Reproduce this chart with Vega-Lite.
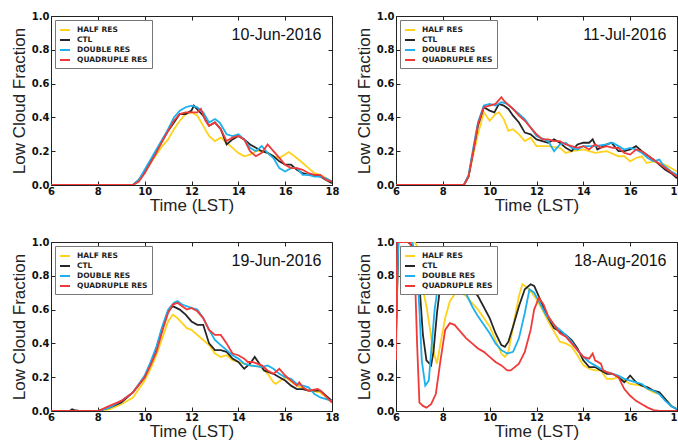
{
"$schema": "https://vega.github.io/schema/vega-lite/v6.json",
"background": "white",
"padding": {"left": 9, "top": 10, "right": 0, "bottom": 0},
"datasets": {
"curves": [
{"panel":1,"series":"HALF RES","time":6,"frac":0},{"panel":1,"series":"HALF RES","time":9.5,"frac":0},{"panel":1,"series":"HALF RES","time":9.75,"frac":0.03},{"panel":1,"series":"HALF RES","time":10,"frac":0.08},{"panel":1,"series":"HALF RES","time":10.25,"frac":0.13},{"panel":1,"series":"HALF RES","time":10.5,"frac":0.18},{"panel":1,"series":"HALF RES","time":10.75,"frac":0.23},{"panel":1,"series":"HALF RES","time":11,"frac":0.27},{"panel":1,"series":"HALF RES","time":11.25,"frac":0.33},{"panel":1,"series":"HALF RES","time":11.5,"frac":0.38},{"panel":1,"series":"HALF RES","time":11.75,"frac":0.42},{"panel":1,"series":"HALF RES","time":12,"frac":0.43},{"panel":1,"series":"HALF RES","time":12.25,"frac":0.41},{"panel":1,"series":"HALF RES","time":12.5,"frac":0.35},{"panel":1,"series":"HALF RES","time":12.75,"frac":0.29},{"panel":1,"series":"HALF RES","time":13,"frac":0.26},{"panel":1,"series":"HALF RES","time":13.25,"frac":0.28},{"panel":1,"series":"HALF RES","time":13.5,"frac":0.25},{"panel":1,"series":"HALF RES","time":13.75,"frac":0.22},{"panel":1,"series":"HALF RES","time":14,"frac":0.19},{"panel":1,"series":"HALF RES","time":14.25,"frac":0.17},{"panel":1,"series":"HALF RES","time":14.5,"frac":0.18},{"panel":1,"series":"HALF RES","time":14.75,"frac":0.2},{"panel":1,"series":"HALF RES","time":15,"frac":0.2},{"panel":1,"series":"HALF RES","time":15.25,"frac":0.19},{"panel":1,"series":"HALF RES","time":15.5,"frac":0.17},{"panel":1,"series":"HALF RES","time":15.75,"frac":0.16},{"panel":1,"series":"HALF RES","time":16,"frac":0.18},{"panel":1,"series":"HALF RES","time":16.15,"frac":0.195},{"panel":1,"series":"HALF RES","time":16.4,"frac":0.17},{"panel":1,"series":"HALF RES","time":16.75,"frac":0.13},{"panel":1,"series":"HALF RES","time":17,"frac":0.1},{"panel":1,"series":"HALF RES","time":17.25,"frac":0.07},{"panel":1,"series":"HALF RES","time":17.5,"frac":0.06},{"panel":1,"series":"HALF RES","time":17.75,"frac":0.04},{"panel":1,"series":"HALF RES","time":18,"frac":0.02},
{"panel":1,"series":"CTL","time":6,"frac":0},{"panel":1,"series":"CTL","time":9.5,"frac":0},{"panel":1,"series":"CTL","time":9.75,"frac":0.03},{"panel":1,"series":"CTL","time":10,"frac":0.08},{"panel":1,"series":"CTL","time":10.25,"frac":0.14},{"panel":1,"series":"CTL","time":10.5,"frac":0.2},{"panel":1,"series":"CTL","time":10.75,"frac":0.26},{"panel":1,"series":"CTL","time":11,"frac":0.32},{"panel":1,"series":"CTL","time":11.25,"frac":0.37},{"panel":1,"series":"CTL","time":11.5,"frac":0.42},{"panel":1,"series":"CTL","time":11.75,"frac":0.42},{"panel":1,"series":"CTL","time":12,"frac":0.44},{"panel":1,"series":"CTL","time":12.1,"frac":0.47},{"panel":1,"series":"CTL","time":12.3,"frac":0.44},{"panel":1,"series":"CTL","time":12.5,"frac":0.41},{"panel":1,"series":"CTL","time":12.75,"frac":0.35},{"panel":1,"series":"CTL","time":13,"frac":0.37},{"panel":1,"series":"CTL","time":13.25,"frac":0.33},{"panel":1,"series":"CTL","time":13.5,"frac":0.24},{"panel":1,"series":"CTL","time":13.75,"frac":0.27},{"panel":1,"series":"CTL","time":14,"frac":0.29},{"panel":1,"series":"CTL","time":14.25,"frac":0.27},{"panel":1,"series":"CTL","time":14.5,"frac":0.24},{"panel":1,"series":"CTL","time":14.75,"frac":0.22},{"panel":1,"series":"CTL","time":15,"frac":0.2},{"panel":1,"series":"CTL","time":15.25,"frac":0.19},{"panel":1,"series":"CTL","time":15.5,"frac":0.17},{"panel":1,"series":"CTL","time":15.75,"frac":0.14},{"panel":1,"series":"CTL","time":16,"frac":0.12},{"panel":1,"series":"CTL","time":16.25,"frac":0.12},{"panel":1,"series":"CTL","time":16.5,"frac":0.09},{"panel":1,"series":"CTL","time":16.75,"frac":0.07},{"panel":1,"series":"CTL","time":17,"frac":0.06},{"panel":1,"series":"CTL","time":17.25,"frac":0.06},{"panel":1,"series":"CTL","time":17.5,"frac":0.05},{"panel":1,"series":"CTL","time":17.75,"frac":0.03},{"panel":1,"series":"CTL","time":18,"frac":0.01},
{"panel":1,"series":"DOUBLE RES","time":6,"frac":0},{"panel":1,"series":"DOUBLE RES","time":9.5,"frac":0},{"panel":1,"series":"DOUBLE RES","time":9.75,"frac":0.03},{"panel":1,"series":"DOUBLE RES","time":10,"frac":0.09},{"panel":1,"series":"DOUBLE RES","time":10.25,"frac":0.15},{"panel":1,"series":"DOUBLE RES","time":10.5,"frac":0.21},{"panel":1,"series":"DOUBLE RES","time":10.75,"frac":0.27},{"panel":1,"series":"DOUBLE RES","time":11,"frac":0.33},{"panel":1,"series":"DOUBLE RES","time":11.25,"frac":0.4},{"panel":1,"series":"DOUBLE RES","time":11.5,"frac":0.44},{"panel":1,"series":"DOUBLE RES","time":11.75,"frac":0.46},{"panel":1,"series":"DOUBLE RES","time":12,"frac":0.47},{"panel":1,"series":"DOUBLE RES","time":12.25,"frac":0.46},{"panel":1,"series":"DOUBLE RES","time":12.5,"frac":0.43},{"panel":1,"series":"DOUBLE RES","time":12.75,"frac":0.37},{"panel":1,"series":"DOUBLE RES","time":13,"frac":0.39},{"panel":1,"series":"DOUBLE RES","time":13.2,"frac":0.37},{"panel":1,"series":"DOUBLE RES","time":13.5,"frac":0.3},{"panel":1,"series":"DOUBLE RES","time":13.75,"frac":0.29},{"panel":1,"series":"DOUBLE RES","time":14,"frac":0.3},{"panel":1,"series":"DOUBLE RES","time":14.25,"frac":0.27},{"panel":1,"series":"DOUBLE RES","time":14.5,"frac":0.22},{"panel":1,"series":"DOUBLE RES","time":14.75,"frac":0.2},{"panel":1,"series":"DOUBLE RES","time":15,"frac":0.23},{"panel":1,"series":"DOUBLE RES","time":15.25,"frac":0.19},{"panel":1,"series":"DOUBLE RES","time":15.5,"frac":0.16},{"panel":1,"series":"DOUBLE RES","time":15.75,"frac":0.1},{"panel":1,"series":"DOUBLE RES","time":16,"frac":0.08},{"panel":1,"series":"DOUBLE RES","time":16.25,"frac":0.1},{"panel":1,"series":"DOUBLE RES","time":16.5,"frac":0.1},{"panel":1,"series":"DOUBLE RES","time":16.75,"frac":0.06},{"panel":1,"series":"DOUBLE RES","time":17,"frac":0.06},{"panel":1,"series":"DOUBLE RES","time":17.25,"frac":0.05},{"panel":1,"series":"DOUBLE RES","time":17.5,"frac":0.05},{"panel":1,"series":"DOUBLE RES","time":17.75,"frac":0.04},{"panel":1,"series":"DOUBLE RES","time":18,"frac":0.02},
{"panel":1,"series":"QUADRUPLE RES","time":6,"frac":0},{"panel":1,"series":"QUADRUPLE RES","time":9.5,"frac":0},{"panel":1,"series":"QUADRUPLE RES","time":9.75,"frac":0.02},{"panel":1,"series":"QUADRUPLE RES","time":10,"frac":0.07},{"panel":1,"series":"QUADRUPLE RES","time":10.25,"frac":0.13},{"panel":1,"series":"QUADRUPLE RES","time":10.5,"frac":0.19},{"panel":1,"series":"QUADRUPLE RES","time":10.75,"frac":0.26},{"panel":1,"series":"QUADRUPLE RES","time":11,"frac":0.32},{"panel":1,"series":"QUADRUPLE RES","time":11.25,"frac":0.38},{"panel":1,"series":"QUADRUPLE RES","time":11.5,"frac":0.42},{"panel":1,"series":"QUADRUPLE RES","time":11.75,"frac":0.43},{"panel":1,"series":"QUADRUPLE RES","time":12,"frac":0.43},{"panel":1,"series":"QUADRUPLE RES","time":12.25,"frac":0.43},{"panel":1,"series":"QUADRUPLE RES","time":12.4,"frac":0.45},{"panel":1,"series":"QUADRUPLE RES","time":12.6,"frac":0.38},{"panel":1,"series":"QUADRUPLE RES","time":12.75,"frac":0.35},{"panel":1,"series":"QUADRUPLE RES","time":13,"frac":0.37},{"panel":1,"series":"QUADRUPLE RES","time":13.25,"frac":0.33},{"panel":1,"series":"QUADRUPLE RES","time":13.5,"frac":0.26},{"panel":1,"series":"QUADRUPLE RES","time":13.75,"frac":0.28},{"panel":1,"series":"QUADRUPLE RES","time":14,"frac":0.29},{"panel":1,"series":"QUADRUPLE RES","time":14.25,"frac":0.27},{"panel":1,"series":"QUADRUPLE RES","time":14.5,"frac":0.2},{"panel":1,"series":"QUADRUPLE RES","time":14.75,"frac":0.17},{"panel":1,"series":"QUADRUPLE RES","time":15,"frac":0.19},{"panel":1,"series":"QUADRUPLE RES","time":15.25,"frac":0.24},{"panel":1,"series":"QUADRUPLE RES","time":15.5,"frac":0.2},{"panel":1,"series":"QUADRUPLE RES","time":15.75,"frac":0.16},{"panel":1,"series":"QUADRUPLE RES","time":16,"frac":0.12},{"panel":1,"series":"QUADRUPLE RES","time":16.25,"frac":0.1},{"panel":1,"series":"QUADRUPLE RES","time":16.5,"frac":0.1},{"panel":1,"series":"QUADRUPLE RES","time":16.75,"frac":0.09},{"panel":1,"series":"QUADRUPLE RES","time":17,"frac":0.07},{"panel":1,"series":"QUADRUPLE RES","time":17.25,"frac":0.06},{"panel":1,"series":"QUADRUPLE RES","time":17.5,"frac":0.06},{"panel":1,"series":"QUADRUPLE RES","time":17.75,"frac":0.03},{"panel":1,"series":"QUADRUPLE RES","time":18,"frac":0.02},

{"panel":2,"series":"HALF RES","time":6,"frac":0},{"panel":2,"series":"HALF RES","time":8.9,"frac":0},{"panel":2,"series":"HALF RES","time":9.1,"frac":0.05},{"panel":2,"series":"HALF RES","time":9.3,"frac":0.18},{"panel":2,"series":"HALF RES","time":9.5,"frac":0.3},{"panel":2,"series":"HALF RES","time":9.75,"frac":0.43},{"panel":2,"series":"HALF RES","time":10,"frac":0.38},{"panel":2,"series":"HALF RES","time":10.25,"frac":0.42},{"panel":2,"series":"HALF RES","time":10.4,"frac":0.43},{"panel":2,"series":"HALF RES","time":10.6,"frac":0.39},{"panel":2,"series":"HALF RES","time":10.8,"frac":0.32},{"panel":2,"series":"HALF RES","time":11,"frac":0.33},{"panel":2,"series":"HALF RES","time":11.25,"frac":0.3},{"panel":2,"series":"HALF RES","time":11.5,"frac":0.26},{"panel":2,"series":"HALF RES","time":11.75,"frac":0.28},{"panel":2,"series":"HALF RES","time":12,"frac":0.23},{"panel":2,"series":"HALF RES","time":12.5,"frac":0.23},{"panel":2,"series":"HALF RES","time":13,"frac":0.22},{"panel":2,"series":"HALF RES","time":13.25,"frac":0.19},{"panel":2,"series":"HALF RES","time":13.5,"frac":0.2},{"panel":2,"series":"HALF RES","time":14,"frac":0.21},{"panel":2,"series":"HALF RES","time":14.25,"frac":0.2},{"panel":2,"series":"HALF RES","time":14.5,"frac":0.19},{"panel":2,"series":"HALF RES","time":15,"frac":0.2},{"panel":2,"series":"HALF RES","time":15.5,"frac":0.17},{"panel":2,"series":"HALF RES","time":15.75,"frac":0.17},{"panel":2,"series":"HALF RES","time":16,"frac":0.14},{"panel":2,"series":"HALF RES","time":16.25,"frac":0.16},{"panel":2,"series":"HALF RES","time":16.5,"frac":0.17},{"panel":2,"series":"HALF RES","time":16.7,"frac":0.13},{"panel":2,"series":"HALF RES","time":17,"frac":0.14},{"panel":2,"series":"HALF RES","time":17.5,"frac":0.12},{"panel":2,"series":"HALF RES","time":18,"frac":0.08},
{"panel":2,"series":"CTL","time":6,"frac":0},{"panel":2,"series":"CTL","time":8.9,"frac":0},{"panel":2,"series":"CTL","time":9.1,"frac":0.05},{"panel":2,"series":"CTL","time":9.3,"frac":0.2},{"panel":2,"series":"CTL","time":9.5,"frac":0.35},{"panel":2,"series":"CTL","time":9.75,"frac":0.46},{"panel":2,"series":"CTL","time":10,"frac":0.44},{"panel":2,"series":"CTL","time":10.2,"frac":0.43},{"panel":2,"series":"CTL","time":10.4,"frac":0.48},{"panel":2,"series":"CTL","time":10.6,"frac":0.47},{"panel":2,"series":"CTL","time":10.8,"frac":0.45},{"panel":2,"series":"CTL","time":11,"frac":0.41},{"panel":2,"series":"CTL","time":11.25,"frac":0.37},{"panel":2,"series":"CTL","time":11.5,"frac":0.31},{"panel":2,"series":"CTL","time":11.75,"frac":0.3},{"panel":2,"series":"CTL","time":12,"frac":0.27},{"panel":2,"series":"CTL","time":12.25,"frac":0.26},{"panel":2,"series":"CTL","time":12.5,"frac":0.25},{"panel":2,"series":"CTL","time":12.75,"frac":0.27},{"panel":2,"series":"CTL","time":13,"frac":0.25},{"panel":2,"series":"CTL","time":13.25,"frac":0.22},{"panel":2,"series":"CTL","time":13.5,"frac":0.2},{"panel":2,"series":"CTL","time":13.75,"frac":0.24},{"panel":2,"series":"CTL","time":14,"frac":0.25},{"panel":2,"series":"CTL","time":14.25,"frac":0.25},{"panel":2,"series":"CTL","time":14.4,"frac":0.27},{"panel":2,"series":"CTL","time":14.6,"frac":0.21},{"panel":2,"series":"CTL","time":15,"frac":0.24},{"panel":2,"series":"CTL","time":15.2,"frac":0.25},{"panel":2,"series":"CTL","time":15.5,"frac":0.2},{"panel":2,"series":"CTL","time":15.75,"frac":0.2},{"panel":2,"series":"CTL","time":16,"frac":0.21},{"panel":2,"series":"CTL","time":16.25,"frac":0.23},{"panel":2,"series":"CTL","time":16.5,"frac":0.2},{"panel":2,"series":"CTL","time":17,"frac":0.15},{"panel":2,"series":"CTL","time":17.5,"frac":0.09},{"panel":2,"series":"CTL","time":17.75,"frac":0.07},{"panel":2,"series":"CTL","time":18,"frac":0.04},
{"panel":2,"series":"DOUBLE RES","time":6,"frac":0},{"panel":2,"series":"DOUBLE RES","time":8.9,"frac":0},{"panel":2,"series":"DOUBLE RES","time":9.1,"frac":0.06},{"panel":2,"series":"DOUBLE RES","time":9.3,"frac":0.22},{"panel":2,"series":"DOUBLE RES","time":9.5,"frac":0.37},{"panel":2,"series":"DOUBLE RES","time":9.75,"frac":0.47},{"panel":2,"series":"DOUBLE RES","time":10,"frac":0.48},{"panel":2,"series":"DOUBLE RES","time":10.25,"frac":0.47},{"panel":2,"series":"DOUBLE RES","time":10.5,"frac":0.49},{"panel":2,"series":"DOUBLE RES","time":10.75,"frac":0.48},{"panel":2,"series":"DOUBLE RES","time":11,"frac":0.45},{"panel":2,"series":"DOUBLE RES","time":11.25,"frac":0.42},{"panel":2,"series":"DOUBLE RES","time":11.5,"frac":0.39},{"panel":2,"series":"DOUBLE RES","time":11.75,"frac":0.34},{"panel":2,"series":"DOUBLE RES","time":12,"frac":0.29},{"panel":2,"series":"DOUBLE RES","time":12.5,"frac":0.26},{"panel":2,"series":"DOUBLE RES","time":12.75,"frac":0.2},{"panel":2,"series":"DOUBLE RES","time":13,"frac":0.24},{"panel":2,"series":"DOUBLE RES","time":13.25,"frac":0.25},{"panel":2,"series":"DOUBLE RES","time":13.5,"frac":0.22},{"panel":2,"series":"DOUBLE RES","time":13.75,"frac":0.21},{"panel":2,"series":"DOUBLE RES","time":14,"frac":0.23},{"panel":2,"series":"DOUBLE RES","time":14.5,"frac":0.23},{"panel":2,"series":"DOUBLE RES","time":15,"frac":0.24},{"panel":2,"series":"DOUBLE RES","time":15.25,"frac":0.25},{"panel":2,"series":"DOUBLE RES","time":15.5,"frac":0.23},{"panel":2,"series":"DOUBLE RES","time":15.75,"frac":0.21},{"panel":2,"series":"DOUBLE RES","time":16,"frac":0.22},{"panel":2,"series":"DOUBLE RES","time":16.25,"frac":0.21},{"panel":2,"series":"DOUBLE RES","time":16.5,"frac":0.19},{"panel":2,"series":"DOUBLE RES","time":16.75,"frac":0.16},{"panel":2,"series":"DOUBLE RES","time":17,"frac":0.14},{"panel":2,"series":"DOUBLE RES","time":17.25,"frac":0.15},{"panel":2,"series":"DOUBLE RES","time":17.4,"frac":0.12},{"panel":2,"series":"DOUBLE RES","time":17.75,"frac":0.08},{"panel":2,"series":"DOUBLE RES","time":18,"frac":0.06},
{"panel":2,"series":"QUADRUPLE RES","time":6,"frac":0},{"panel":2,"series":"QUADRUPLE RES","time":8.9,"frac":0},{"panel":2,"series":"QUADRUPLE RES","time":9.1,"frac":0.05},{"panel":2,"series":"QUADRUPLE RES","time":9.3,"frac":0.2},{"panel":2,"series":"QUADRUPLE RES","time":9.5,"frac":0.36},{"panel":2,"series":"QUADRUPLE RES","time":9.75,"frac":0.46},{"panel":2,"series":"QUADRUPLE RES","time":10,"frac":0.47},{"panel":2,"series":"QUADRUPLE RES","time":10.25,"frac":0.48},{"panel":2,"series":"QUADRUPLE RES","time":10.5,"frac":0.52},{"panel":2,"series":"QUADRUPLE RES","time":10.6,"frac":0.5},{"panel":2,"series":"QUADRUPLE RES","time":10.75,"frac":0.48},{"panel":2,"series":"QUADRUPLE RES","time":11,"frac":0.45},{"panel":2,"series":"QUADRUPLE RES","time":11.25,"frac":0.41},{"panel":2,"series":"QUADRUPLE RES","time":11.5,"frac":0.38},{"panel":2,"series":"QUADRUPLE RES","time":11.75,"frac":0.34},{"panel":2,"series":"QUADRUPLE RES","time":12,"frac":0.3},{"panel":2,"series":"QUADRUPLE RES","time":12.25,"frac":0.27},{"panel":2,"series":"QUADRUPLE RES","time":12.5,"frac":0.27},{"panel":2,"series":"QUADRUPLE RES","time":12.75,"frac":0.26},{"panel":2,"series":"QUADRUPLE RES","time":13,"frac":0.26},{"panel":2,"series":"QUADRUPLE RES","time":13.25,"frac":0.24},{"panel":2,"series":"QUADRUPLE RES","time":13.5,"frac":0.23},{"panel":2,"series":"QUADRUPLE RES","time":13.75,"frac":0.22},{"panel":2,"series":"QUADRUPLE RES","time":14,"frac":0.23},{"panel":2,"series":"QUADRUPLE RES","time":14.25,"frac":0.21},{"panel":2,"series":"QUADRUPLE RES","time":14.5,"frac":0.24},{"panel":2,"series":"QUADRUPLE RES","time":14.75,"frac":0.22},{"panel":2,"series":"QUADRUPLE RES","time":15,"frac":0.23},{"panel":2,"series":"QUADRUPLE RES","time":15.25,"frac":0.22},{"panel":2,"series":"QUADRUPLE RES","time":15.5,"frac":0.22},{"panel":2,"series":"QUADRUPLE RES","time":15.75,"frac":0.19},{"panel":2,"series":"QUADRUPLE RES","time":16,"frac":0.18},{"panel":2,"series":"QUADRUPLE RES","time":16.25,"frac":0.21},{"panel":2,"series":"QUADRUPLE RES","time":16.5,"frac":0.2},{"panel":2,"series":"QUADRUPLE RES","time":17,"frac":0.15},{"panel":2,"series":"QUADRUPLE RES","time":17.5,"frac":0.1},{"panel":2,"series":"QUADRUPLE RES","time":18,"frac":0.05},

{"panel":3,"series":"HALF RES","time":6,"frac":0},{"panel":3,"series":"HALF RES","time":8,"frac":0},{"panel":3,"series":"HALF RES","time":8.5,"frac":0.01},{"panel":3,"series":"HALF RES","time":9,"frac":0.04},{"panel":3,"series":"HALF RES","time":9.5,"frac":0.08},{"panel":3,"series":"HALF RES","time":10,"frac":0.18},{"panel":3,"series":"HALF RES","time":10.25,"frac":0.25},{"panel":3,"series":"HALF RES","time":10.5,"frac":0.33},{"panel":3,"series":"HALF RES","time":10.75,"frac":0.43},{"panel":3,"series":"HALF RES","time":11,"frac":0.53},{"panel":3,"series":"HALF RES","time":11.2,"frac":0.57},{"panel":3,"series":"HALF RES","time":11.4,"frac":0.55},{"panel":3,"series":"HALF RES","time":11.6,"frac":0.52},{"panel":3,"series":"HALF RES","time":11.8,"frac":0.49},{"panel":3,"series":"HALF RES","time":12,"frac":0.48},{"panel":3,"series":"HALF RES","time":12.25,"frac":0.45},{"panel":3,"series":"HALF RES","time":12.5,"frac":0.42},{"panel":3,"series":"HALF RES","time":12.75,"frac":0.39},{"panel":3,"series":"HALF RES","time":13,"frac":0.34},{"panel":3,"series":"HALF RES","time":13.25,"frac":0.32},{"panel":3,"series":"HALF RES","time":13.5,"frac":0.33},{"panel":3,"series":"HALF RES","time":13.75,"frac":0.3},{"panel":3,"series":"HALF RES","time":14,"frac":0.29},{"panel":3,"series":"HALF RES","time":14.5,"frac":0.27},{"panel":3,"series":"HALF RES","time":15,"frac":0.26},{"panel":3,"series":"HALF RES","time":15.25,"frac":0.22},{"panel":3,"series":"HALF RES","time":15.5,"frac":0.17},{"panel":3,"series":"HALF RES","time":15.6,"frac":0.16},{"panel":3,"series":"HALF RES","time":15.8,"frac":0.18},{"panel":3,"series":"HALF RES","time":16,"frac":0.2},{"panel":3,"series":"HALF RES","time":16.5,"frac":0.15},{"panel":3,"series":"HALF RES","time":17,"frac":0.12},{"panel":3,"series":"HALF RES","time":17.5,"frac":0.11},{"panel":3,"series":"HALF RES","time":18,"frac":0.05},
{"panel":3,"series":"CTL","time":6,"frac":0},{"panel":3,"series":"CTL","time":6.8,"frac":0},{"panel":3,"series":"CTL","time":6.9,"frac":0.01},{"panel":3,"series":"CTL","time":7,"frac":0.005},{"panel":3,"series":"CTL","time":7.2,"frac":0},{"panel":3,"series":"CTL","time":8,"frac":0},{"panel":3,"series":"CTL","time":8.5,"frac":0.02},{"panel":3,"series":"CTL","time":9,"frac":0.05},{"panel":3,"series":"CTL","time":9.5,"frac":0.11},{"panel":3,"series":"CTL","time":10,"frac":0.2},{"panel":3,"series":"CTL","time":10.25,"frac":0.28},{"panel":3,"series":"CTL","time":10.5,"frac":0.37},{"panel":3,"series":"CTL","time":10.75,"frac":0.49},{"panel":3,"series":"CTL","time":11,"frac":0.59},{"panel":3,"series":"CTL","time":11.2,"frac":0.62},{"panel":3,"series":"CTL","time":11.5,"frac":0.6},{"panel":3,"series":"CTL","time":11.75,"frac":0.57},{"panel":3,"series":"CTL","time":12,"frac":0.53},{"panel":3,"series":"CTL","time":12.25,"frac":0.51},{"panel":3,"series":"CTL","time":12.5,"frac":0.51},{"panel":3,"series":"CTL","time":12.75,"frac":0.4},{"panel":3,"series":"CTL","time":13,"frac":0.36},{"panel":3,"series":"CTL","time":13.25,"frac":0.36},{"panel":3,"series":"CTL","time":13.5,"frac":0.35},{"panel":3,"series":"CTL","time":13.75,"frac":0.31},{"panel":3,"series":"CTL","time":14,"frac":0.29},{"panel":3,"series":"CTL","time":14.25,"frac":0.25},{"panel":3,"series":"CTL","time":14.5,"frac":0.28},{"panel":3,"series":"CTL","time":14.7,"frac":0.32},{"panel":3,"series":"CTL","time":14.9,"frac":0.28},{"panel":3,"series":"CTL","time":15.1,"frac":0.24},{"panel":3,"series":"CTL","time":15.5,"frac":0.22},{"panel":3,"series":"CTL","time":15.75,"frac":0.2},{"panel":3,"series":"CTL","time":16,"frac":0.18},{"panel":3,"series":"CTL","time":16.25,"frac":0.15},{"panel":3,"series":"CTL","time":16.5,"frac":0.13},{"panel":3,"series":"CTL","time":16.75,"frac":0.13},{"panel":3,"series":"CTL","time":17,"frac":0.12},{"panel":3,"series":"CTL","time":17.5,"frac":0.12},{"panel":3,"series":"CTL","time":18,"frac":0.06},
{"panel":3,"series":"DOUBLE RES","time":6,"frac":0},{"panel":3,"series":"DOUBLE RES","time":8,"frac":0},{"panel":3,"series":"DOUBLE RES","time":8.5,"frac":0.02},{"panel":3,"series":"DOUBLE RES","time":9,"frac":0.06},{"panel":3,"series":"DOUBLE RES","time":9.5,"frac":0.11},{"panel":3,"series":"DOUBLE RES","time":10,"frac":0.21},{"panel":3,"series":"DOUBLE RES","time":10.25,"frac":0.29},{"panel":3,"series":"DOUBLE RES","time":10.5,"frac":0.38},{"panel":3,"series":"DOUBLE RES","time":10.75,"frac":0.5},{"panel":3,"series":"DOUBLE RES","time":11,"frac":0.6},{"panel":3,"series":"DOUBLE RES","time":11.25,"frac":0.64},{"panel":3,"series":"DOUBLE RES","time":11.4,"frac":0.65},{"panel":3,"series":"DOUBLE RES","time":11.6,"frac":0.63},{"panel":3,"series":"DOUBLE RES","time":12,"frac":0.61},{"panel":3,"series":"DOUBLE RES","time":12.25,"frac":0.6},{"panel":3,"series":"DOUBLE RES","time":12.5,"frac":0.55},{"panel":3,"series":"DOUBLE RES","time":12.75,"frac":0.48},{"panel":3,"series":"DOUBLE RES","time":13,"frac":0.42},{"panel":3,"series":"DOUBLE RES","time":13.25,"frac":0.39},{"panel":3,"series":"DOUBLE RES","time":13.5,"frac":0.36},{"panel":3,"series":"DOUBLE RES","time":13.75,"frac":0.33},{"panel":3,"series":"DOUBLE RES","time":14,"frac":0.31},{"panel":3,"series":"DOUBLE RES","time":14.25,"frac":0.28},{"panel":3,"series":"DOUBLE RES","time":14.5,"frac":0.27},{"panel":3,"series":"DOUBLE RES","time":15,"frac":0.26},{"panel":3,"series":"DOUBLE RES","time":15.25,"frac":0.27},{"panel":3,"series":"DOUBLE RES","time":15.5,"frac":0.25},{"panel":3,"series":"DOUBLE RES","time":15.75,"frac":0.22},{"panel":3,"series":"DOUBLE RES","time":16,"frac":0.2},{"panel":3,"series":"DOUBLE RES","time":16.25,"frac":0.19},{"panel":3,"series":"DOUBLE RES","time":16.5,"frac":0.16},{"panel":3,"series":"DOUBLE RES","time":17,"frac":0.14},{"panel":3,"series":"DOUBLE RES","time":17.25,"frac":0.1},{"panel":3,"series":"DOUBLE RES","time":17.5,"frac":0.08},{"panel":3,"series":"DOUBLE RES","time":18,"frac":0.06},
{"panel":3,"series":"QUADRUPLE RES","time":6,"frac":0},{"panel":3,"series":"QUADRUPLE RES","time":8,"frac":0},{"panel":3,"series":"QUADRUPLE RES","time":8.5,"frac":0.03},{"panel":3,"series":"QUADRUPLE RES","time":9,"frac":0.06},{"panel":3,"series":"QUADRUPLE RES","time":9.5,"frac":0.11},{"panel":3,"series":"QUADRUPLE RES","time":10,"frac":0.2},{"panel":3,"series":"QUADRUPLE RES","time":10.25,"frac":0.27},{"panel":3,"series":"QUADRUPLE RES","time":10.5,"frac":0.35},{"panel":3,"series":"QUADRUPLE RES","time":10.75,"frac":0.47},{"panel":3,"series":"QUADRUPLE RES","time":11,"frac":0.58},{"panel":3,"series":"QUADRUPLE RES","time":11.2,"frac":0.63},{"panel":3,"series":"QUADRUPLE RES","time":11.4,"frac":0.64},{"panel":3,"series":"QUADRUPLE RES","time":11.6,"frac":0.62},{"panel":3,"series":"QUADRUPLE RES","time":11.8,"frac":0.6},{"panel":3,"series":"QUADRUPLE RES","time":12,"frac":0.61},{"panel":3,"series":"QUADRUPLE RES","time":12.25,"frac":0.59},{"panel":3,"series":"QUADRUPLE RES","time":12.5,"frac":0.55},{"panel":3,"series":"QUADRUPLE RES","time":12.75,"frac":0.48},{"panel":3,"series":"QUADRUPLE RES","time":13,"frac":0.45},{"panel":3,"series":"QUADRUPLE RES","time":13.25,"frac":0.45},{"panel":3,"series":"QUADRUPLE RES","time":13.5,"frac":0.4},{"panel":3,"series":"QUADRUPLE RES","time":13.75,"frac":0.34},{"panel":3,"series":"QUADRUPLE RES","time":14,"frac":0.33},{"panel":3,"series":"QUADRUPLE RES","time":14.25,"frac":0.31},{"panel":3,"series":"QUADRUPLE RES","time":14.4,"frac":0.29},{"panel":3,"series":"QUADRUPLE RES","time":14.6,"frac":0.29},{"panel":3,"series":"QUADRUPLE RES","time":15,"frac":0.27},{"panel":3,"series":"QUADRUPLE RES","time":15.25,"frac":0.24},{"panel":3,"series":"QUADRUPLE RES","time":15.5,"frac":0.22},{"panel":3,"series":"QUADRUPLE RES","time":15.75,"frac":0.25},{"panel":3,"series":"QUADRUPLE RES","time":16,"frac":0.21},{"panel":3,"series":"QUADRUPLE RES","time":16.25,"frac":0.18},{"panel":3,"series":"QUADRUPLE RES","time":16.5,"frac":0.15},{"panel":3,"series":"QUADRUPLE RES","time":16.6,"frac":0.17},{"panel":3,"series":"QUADRUPLE RES","time":16.75,"frac":0.14},{"panel":3,"series":"QUADRUPLE RES","time":17,"frac":0.12},{"panel":3,"series":"QUADRUPLE RES","time":17.4,"frac":0.13},{"panel":3,"series":"QUADRUPLE RES","time":17.5,"frac":0.12},{"panel":3,"series":"QUADRUPLE RES","time":18,"frac":0.05},

{"panel":4,"series":"HALF RES","time":6,"frac":0.4},{"panel":4,"series":"HALF RES","time":6.1,"frac":1},{"panel":4,"series":"HALF RES","time":6.8,"frac":1},{"panel":4,"series":"HALF RES","time":7,"frac":0.95},{"panel":4,"series":"HALF RES","time":7.1,"frac":0.75},{"panel":4,"series":"HALF RES","time":7.3,"frac":0.62},{"panel":4,"series":"HALF RES","time":7.6,"frac":0.35},{"panel":4,"series":"HALF RES","time":7.75,"frac":0.28},{"panel":4,"series":"HALF RES","time":7.9,"frac":0.4},{"panel":4,"series":"HALF RES","time":8.1,"frac":0.55},{"panel":4,"series":"HALF RES","time":8.3,"frac":0.65},{"panel":4,"series":"HALF RES","time":8.5,"frac":0.69},{"panel":4,"series":"HALF RES","time":8.75,"frac":0.7},{"panel":4,"series":"HALF RES","time":9,"frac":0.68},{"panel":4,"series":"HALF RES","time":9.5,"frac":0.6},{"panel":4,"series":"HALF RES","time":10,"frac":0.5},{"panel":4,"series":"HALF RES","time":10.25,"frac":0.42},{"panel":4,"series":"HALF RES","time":10.5,"frac":0.34},{"panel":4,"series":"HALF RES","time":10.65,"frac":0.32},{"panel":4,"series":"HALF RES","time":10.8,"frac":0.35},{"panel":4,"series":"HALF RES","time":11,"frac":0.5},{"panel":4,"series":"HALF RES","time":11.25,"frac":0.68},{"panel":4,"series":"HALF RES","time":11.4,"frac":0.75},{"panel":4,"series":"HALF RES","time":11.6,"frac":0.73},{"panel":4,"series":"HALF RES","time":11.8,"frac":0.7},{"panel":4,"series":"HALF RES","time":12,"frac":0.66},{"panel":4,"series":"HALF RES","time":12.25,"frac":0.6},{"panel":4,"series":"HALF RES","time":12.5,"frac":0.53},{"panel":4,"series":"HALF RES","time":12.75,"frac":0.47},{"panel":4,"series":"HALF RES","time":13,"frac":0.41},{"panel":4,"series":"HALF RES","time":13.25,"frac":0.4},{"panel":4,"series":"HALF RES","time":13.5,"frac":0.38},{"panel":4,"series":"HALF RES","time":13.75,"frac":0.33},{"panel":4,"series":"HALF RES","time":14,"frac":0.27},{"panel":4,"series":"HALF RES","time":14.25,"frac":0.25},{"panel":4,"series":"HALF RES","time":14.5,"frac":0.24},{"panel":4,"series":"HALF RES","time":14.75,"frac":0.24},{"panel":4,"series":"HALF RES","time":15,"frac":0.19},{"panel":4,"series":"HALF RES","time":15.25,"frac":0.19},{"panel":4,"series":"HALF RES","time":15.5,"frac":0.2},{"panel":4,"series":"HALF RES","time":15.75,"frac":0.18},{"panel":4,"series":"HALF RES","time":16,"frac":0.16},{"panel":4,"series":"HALF RES","time":16.5,"frac":0.15},{"panel":4,"series":"HALF RES","time":17,"frac":0.11},{"panel":4,"series":"HALF RES","time":17.25,"frac":0.1},{"panel":4,"series":"HALF RES","time":17.5,"frac":0.07},{"panel":4,"series":"HALF RES","time":17.75,"frac":0.03},{"panel":4,"series":"HALF RES","time":18,"frac":0.01},
{"panel":4,"series":"CTL","time":6,"frac":0.45},{"panel":4,"series":"CTL","time":6.1,"frac":1},{"panel":4,"series":"CTL","time":6.5,"frac":1},{"panel":4,"series":"CTL","time":6.7,"frac":0.98},{"panel":4,"series":"CTL","time":6.9,"frac":0.9},{"panel":4,"series":"CTL","time":7,"frac":0.75},{"panel":4,"series":"CTL","time":7.15,"frac":0.45},{"panel":4,"series":"CTL","time":7.3,"frac":0.3},{"panel":4,"series":"CTL","time":7.5,"frac":0.27},{"panel":4,"series":"CTL","time":7.6,"frac":0.35},{"panel":4,"series":"CTL","time":7.75,"frac":0.58},{"panel":4,"series":"CTL","time":7.9,"frac":0.75},{"panel":4,"series":"CTL","time":8,"frac":0.8},{"panel":4,"series":"CTL","time":8.5,"frac":0.82},{"panel":4,"series":"CTL","time":9,"frac":0.77},{"panel":4,"series":"CTL","time":9.5,"frac":0.68},{"panel":4,"series":"CTL","time":10,"frac":0.55},{"panel":4,"series":"CTL","time":10.25,"frac":0.46},{"panel":4,"series":"CTL","time":10.5,"frac":0.39},{"panel":4,"series":"CTL","time":10.65,"frac":0.38},{"panel":4,"series":"CTL","time":10.8,"frac":0.41},{"panel":4,"series":"CTL","time":11,"frac":0.5},{"panel":4,"series":"CTL","time":11.25,"frac":0.62},{"panel":4,"series":"CTL","time":11.5,"frac":0.72},{"panel":4,"series":"CTL","time":11.75,"frac":0.75},{"panel":4,"series":"CTL","time":11.9,"frac":0.74},{"panel":4,"series":"CTL","time":12,"frac":0.71},{"panel":4,"series":"CTL","time":12.25,"frac":0.63},{"panel":4,"series":"CTL","time":12.5,"frac":0.55},{"panel":4,"series":"CTL","time":12.75,"frac":0.49},{"panel":4,"series":"CTL","time":13,"frac":0.47},{"panel":4,"series":"CTL","time":13.25,"frac":0.45},{"panel":4,"series":"CTL","time":13.5,"frac":0.42},{"panel":4,"series":"CTL","time":13.75,"frac":0.37},{"panel":4,"series":"CTL","time":14,"frac":0.3},{"panel":4,"series":"CTL","time":14.25,"frac":0.26},{"panel":4,"series":"CTL","time":14.5,"frac":0.26},{"panel":4,"series":"CTL","time":14.75,"frac":0.24},{"panel":4,"series":"CTL","time":15,"frac":0.22},{"panel":4,"series":"CTL","time":15.25,"frac":0.22},{"panel":4,"series":"CTL","time":15.5,"frac":0.2},{"panel":4,"series":"CTL","time":15.75,"frac":0.17},{"panel":4,"series":"CTL","time":16,"frac":0.21},{"panel":4,"series":"CTL","time":16.25,"frac":0.17},{"panel":4,"series":"CTL","time":16.5,"frac":0.15},{"panel":4,"series":"CTL","time":16.75,"frac":0.14},{"panel":4,"series":"CTL","time":17,"frac":0.12},{"panel":4,"series":"CTL","time":17.25,"frac":0.11},{"panel":4,"series":"CTL","time":17.5,"frac":0.07},{"panel":4,"series":"CTL","time":17.75,"frac":0.03},{"panel":4,"series":"CTL","time":18,"frac":0.01},
{"panel":4,"series":"DOUBLE RES","time":6,"frac":0.45},{"panel":4,"series":"DOUBLE RES","time":6.1,"frac":1},{"panel":4,"series":"DOUBLE RES","time":6.7,"frac":1},{"panel":4,"series":"DOUBLE RES","time":6.9,"frac":0.85},{"panel":4,"series":"DOUBLE RES","time":7,"frac":0.6},{"panel":4,"series":"DOUBLE RES","time":7.1,"frac":0.3},{"panel":4,"series":"DOUBLE RES","time":7.25,"frac":0.15},{"panel":4,"series":"DOUBLE RES","time":7.4,"frac":0.18},{"panel":4,"series":"DOUBLE RES","time":7.5,"frac":0.35},{"panel":4,"series":"DOUBLE RES","time":7.65,"frac":0.6},{"panel":4,"series":"DOUBLE RES","time":7.8,"frac":0.75},{"panel":4,"series":"DOUBLE RES","time":8,"frac":0.8},{"panel":4,"series":"DOUBLE RES","time":8.5,"frac":0.8},{"panel":4,"series":"DOUBLE RES","time":8.9,"frac":0.72},{"panel":4,"series":"DOUBLE RES","time":9.25,"frac":0.62},{"panel":4,"series":"DOUBLE RES","time":9.5,"frac":0.56},{"panel":4,"series":"DOUBLE RES","time":10,"frac":0.46},{"panel":4,"series":"DOUBLE RES","time":10.25,"frac":0.4},{"panel":4,"series":"DOUBLE RES","time":10.5,"frac":0.36},{"panel":4,"series":"DOUBLE RES","time":10.75,"frac":0.34},{"panel":4,"series":"DOUBLE RES","time":11,"frac":0.35},{"panel":4,"series":"DOUBLE RES","time":11.25,"frac":0.43},{"panel":4,"series":"DOUBLE RES","time":11.5,"frac":0.58},{"panel":4,"series":"DOUBLE RES","time":11.7,"frac":0.72},{"panel":4,"series":"DOUBLE RES","time":11.9,"frac":0.7},{"panel":4,"series":"DOUBLE RES","time":12.1,"frac":0.65},{"panel":4,"series":"DOUBLE RES","time":12.4,"frac":0.57},{"panel":4,"series":"DOUBLE RES","time":12.75,"frac":0.51},{"panel":4,"series":"DOUBLE RES","time":13,"frac":0.48},{"panel":4,"series":"DOUBLE RES","time":13.25,"frac":0.45},{"panel":4,"series":"DOUBLE RES","time":13.5,"frac":0.41},{"panel":4,"series":"DOUBLE RES","time":13.75,"frac":0.36},{"panel":4,"series":"DOUBLE RES","time":14,"frac":0.32},{"panel":4,"series":"DOUBLE RES","time":14.25,"frac":0.29},{"panel":4,"series":"DOUBLE RES","time":14.5,"frac":0.27},{"panel":4,"series":"DOUBLE RES","time":14.75,"frac":0.25},{"panel":4,"series":"DOUBLE RES","time":15,"frac":0.23},{"panel":4,"series":"DOUBLE RES","time":15.25,"frac":0.22},{"panel":4,"series":"DOUBLE RES","time":15.5,"frac":0.21},{"panel":4,"series":"DOUBLE RES","time":15.75,"frac":0.19},{"panel":4,"series":"DOUBLE RES","time":16,"frac":0.18},{"panel":4,"series":"DOUBLE RES","time":16.25,"frac":0.17},{"panel":4,"series":"DOUBLE RES","time":16.5,"frac":0.16},{"panel":4,"series":"DOUBLE RES","time":16.75,"frac":0.13},{"panel":4,"series":"DOUBLE RES","time":17,"frac":0.12},{"panel":4,"series":"DOUBLE RES","time":17.25,"frac":0.1},{"panel":4,"series":"DOUBLE RES","time":17.5,"frac":0.06},{"panel":4,"series":"DOUBLE RES","time":17.75,"frac":0.03},{"panel":4,"series":"DOUBLE RES","time":18,"frac":0.01},
{"panel":4,"series":"QUADRUPLE RES","time":6,"frac":0.3},{"panel":4,"series":"QUADRUPLE RES","time":6.05,"frac":1},{"panel":4,"series":"QUADRUPLE RES","time":6.6,"frac":1},{"panel":4,"series":"QUADRUPLE RES","time":6.8,"frac":0.85},{"panel":4,"series":"QUADRUPLE RES","time":6.9,"frac":0.4},{"panel":4,"series":"QUADRUPLE RES","time":7,"frac":0.05},{"panel":4,"series":"QUADRUPLE RES","time":7.15,"frac":0.03},{"panel":4,"series":"QUADRUPLE RES","time":7.3,"frac":0.02},{"panel":4,"series":"QUADRUPLE RES","time":7.5,"frac":0.04},{"panel":4,"series":"QUADRUPLE RES","time":7.7,"frac":0.1},{"panel":4,"series":"QUADRUPLE RES","time":7.9,"frac":0.3},{"panel":4,"series":"QUADRUPLE RES","time":8.1,"frac":0.48},{"panel":4,"series":"QUADRUPLE RES","time":8.3,"frac":0.52},{"panel":4,"series":"QUADRUPLE RES","time":8.5,"frac":0.51},{"panel":4,"series":"QUADRUPLE RES","time":8.75,"frac":0.47},{"panel":4,"series":"QUADRUPLE RES","time":9,"frac":0.43},{"panel":4,"series":"QUADRUPLE RES","time":9.25,"frac":0.4},{"panel":4,"series":"QUADRUPLE RES","time":9.5,"frac":0.37},{"panel":4,"series":"QUADRUPLE RES","time":9.75,"frac":0.35},{"panel":4,"series":"QUADRUPLE RES","time":10,"frac":0.32},{"panel":4,"series":"QUADRUPLE RES","time":10.25,"frac":0.29},{"panel":4,"series":"QUADRUPLE RES","time":10.5,"frac":0.27},{"panel":4,"series":"QUADRUPLE RES","time":10.75,"frac":0.24},{"panel":4,"series":"QUADRUPLE RES","time":10.9,"frac":0.24},{"panel":4,"series":"QUADRUPLE RES","time":11.25,"frac":0.28},{"panel":4,"series":"QUADRUPLE RES","time":11.5,"frac":0.35},{"panel":4,"series":"QUADRUPLE RES","time":11.75,"frac":0.48},{"panel":4,"series":"QUADRUPLE RES","time":11.9,"frac":0.6},{"panel":4,"series":"QUADRUPLE RES","time":12.1,"frac":0.67},{"panel":4,"series":"QUADRUPLE RES","time":12.3,"frac":0.63},{"panel":4,"series":"QUADRUPLE RES","time":12.5,"frac":0.56},{"panel":4,"series":"QUADRUPLE RES","time":12.75,"frac":0.51},{"panel":4,"series":"QUADRUPLE RES","time":13,"frac":0.46},{"panel":4,"series":"QUADRUPLE RES","time":13.25,"frac":0.44},{"panel":4,"series":"QUADRUPLE RES","time":13.5,"frac":0.4},{"panel":4,"series":"QUADRUPLE RES","time":13.75,"frac":0.36},{"panel":4,"series":"QUADRUPLE RES","time":14,"frac":0.32},{"panel":4,"series":"QUADRUPLE RES","time":14.25,"frac":0.31},{"panel":4,"series":"QUADRUPLE RES","time":14.4,"frac":0.34},{"panel":4,"series":"QUADRUPLE RES","time":14.5,"frac":0.3},{"panel":4,"series":"QUADRUPLE RES","time":14.75,"frac":0.28},{"panel":4,"series":"QUADRUPLE RES","time":14.85,"frac":0.24},{"panel":4,"series":"QUADRUPLE RES","time":15,"frac":0.23},{"panel":4,"series":"QUADRUPLE RES","time":15.25,"frac":0.22},{"panel":4,"series":"QUADRUPLE RES","time":15.5,"frac":0.2},{"panel":4,"series":"QUADRUPLE RES","time":15.75,"frac":0.13},{"panel":4,"series":"QUADRUPLE RES","time":16,"frac":0.09},{"panel":4,"series":"QUADRUPLE RES","time":16.25,"frac":0.06},{"panel":4,"series":"QUADRUPLE RES","time":16.5,"frac":0.04},{"panel":4,"series":"QUADRUPLE RES","time":16.75,"frac":0.02},{"panel":4,"series":"QUADRUPLE RES","time":17,"frac":0.005},{"panel":4,"series":"QUADRUPLE RES","time":17.25,"frac":0},{"panel":4,"series":"QUADRUPLE RES","time":18,"frac":0}
],
"dates": [
{"panel":1,"label":"10-Jun-2016"},{"panel":2,"label":"11-Jul-2016"},{"panel":3,"label":"19-Jun-2016"},{"panel":4,"label":"18-Aug-2016"}
]
},
"columns": 2,
"spacing": {"row": 57, "column": 64},
"bounds": "flush",
"resolve": {"scale": {"color": "independent"}, "legend": {"color": "independent"}},
"concat": [
{"width": 281, "height": 169, "resolve": {"axis": {"x": "independent", "y": "independent"}},
 "layer": [
 {"data": {"name": "curves"}, "transform": [{"filter": "datum.panel === 1"}],
  "mark": {"type": "line", "strokeWidth": 1.8, "clip": true},
  "encoding": {
   "x": {"field": "time", "type": "quantitative", "scale": {"domain": [6, 18], "nice": false}, "axis": {"orient": "bottom", "values": [6,8,10,12,14,16,18], "title": "Time (LST)"}},
   "y": {"field": "frac", "type": "quantitative", "scale": {"domain": [0, 1], "nice": false}, "axis": {"orient": "left", "values": [0,0.2,0.4,0.6,0.8,1], "format": ".1f", "title": "Low Cloud Fraction"}},
   "color": {"field": "series", "type": "nominal", "scale": {"domain": ["HALF RES","CTL","DOUBLE RES","QUADRUPLE RES"], "range": ["#FFD21E","#262626","#1DB0EE","#F03A3A"]}, "legend": {"title": null}}
  }},
 {"data": {"name": "dates"}, "transform": [{"filter": "datum.panel === 1"}],
  "mark": {"type": "text", "align": "right", "baseline": "middle", "font": "Liberation Sans", "fontSize": 16, "color": "#111"},
  "encoding": {
   "x": {"datum": 17.55, "type": "quantitative", "axis": {"orient": "top", "labels": false, "title": null, "values": [6,8,10,12,14,16,18]}},
   "y": {"datum": 0.89, "type": "quantitative", "axis": {"orient": "right", "labels": false, "title": null, "values": [0,0.2,0.4,0.6,0.8,1]}},
   "text": {"field": "label"}
  }}
 ]},
{"width": 281, "height": 169, "resolve": {"axis": {"x": "independent", "y": "independent"}},
 "layer": [
 {"data": {"name": "curves"}, "transform": [{"filter": "datum.panel === 2"}],
  "mark": {"type": "line", "strokeWidth": 1.8, "clip": true},
  "encoding": {
   "x": {"field": "time", "type": "quantitative", "scale": {"domain": [6, 18], "nice": false}, "axis": {"orient": "bottom", "values": [6,8,10,12,14,16,18], "title": "Time (LST)"}},
   "y": {"field": "frac", "type": "quantitative", "scale": {"domain": [0, 1], "nice": false}, "axis": {"orient": "left", "values": [0,0.2,0.4,0.6,0.8,1], "format": ".1f", "title": "Low Cloud Fraction"}},
   "color": {"field": "series", "type": "nominal", "scale": {"domain": ["HALF RES","CTL","DOUBLE RES","QUADRUPLE RES"], "range": ["#FFD21E","#262626","#1DB0EE","#F03A3A"]}, "legend": {"title": null}}
  }},
 {"data": {"name": "dates"}, "transform": [{"filter": "datum.panel === 2"}],
  "mark": {"type": "text", "align": "right", "baseline": "middle", "font": "Liberation Sans", "fontSize": 16, "color": "#111"},
  "encoding": {
   "x": {"datum": 17.55, "type": "quantitative", "axis": {"orient": "top", "labels": false, "title": null, "values": [6,8,10,12,14,16,18]}},
   "y": {"datum": 0.89, "type": "quantitative", "axis": {"orient": "right", "labels": false, "title": null, "values": [0,0.2,0.4,0.6,0.8,1]}},
   "text": {"field": "label"}
  }}
 ]},
{"width": 281, "height": 169, "resolve": {"axis": {"x": "independent", "y": "independent"}},
 "layer": [
 {"data": {"name": "curves"}, "transform": [{"filter": "datum.panel === 3"}],
  "mark": {"type": "line", "strokeWidth": 1.8, "clip": true},
  "encoding": {
   "x": {"field": "time", "type": "quantitative", "scale": {"domain": [6, 18], "nice": false}, "axis": {"orient": "bottom", "values": [6,8,10,12,14,16,18], "title": "Time (LST)"}},
   "y": {"field": "frac", "type": "quantitative", "scale": {"domain": [0, 1], "nice": false}, "axis": {"orient": "left", "values": [0,0.2,0.4,0.6,0.8,1], "format": ".1f", "title": "Low Cloud Fraction"}},
   "color": {"field": "series", "type": "nominal", "scale": {"domain": ["HALF RES","CTL","DOUBLE RES","QUADRUPLE RES"], "range": ["#FFD21E","#262626","#1DB0EE","#F03A3A"]}, "legend": {"title": null}}
  }},
 {"data": {"name": "dates"}, "transform": [{"filter": "datum.panel === 3"}],
  "mark": {"type": "text", "align": "right", "baseline": "middle", "font": "Liberation Sans", "fontSize": 16, "color": "#111"},
  "encoding": {
   "x": {"datum": 17.55, "type": "quantitative", "axis": {"orient": "top", "labels": false, "title": null, "values": [6,8,10,12,14,16,18]}},
   "y": {"datum": 0.89, "type": "quantitative", "axis": {"orient": "right", "labels": false, "title": null, "values": [0,0.2,0.4,0.6,0.8,1]}},
   "text": {"field": "label"}
  }}
 ]},
{"width": 281, "height": 169, "resolve": {"axis": {"x": "independent", "y": "independent"}},
 "layer": [
 {"data": {"name": "curves"}, "transform": [{"filter": "datum.panel === 4"}],
  "mark": {"type": "line", "strokeWidth": 1.8, "clip": true},
  "encoding": {
   "x": {"field": "time", "type": "quantitative", "scale": {"domain": [6, 18], "nice": false}, "axis": {"orient": "bottom", "values": [6,8,10,12,14,16,18], "title": "Time (LST)"}},
   "y": {"field": "frac", "type": "quantitative", "scale": {"domain": [0, 1], "nice": false}, "axis": {"orient": "left", "values": [0,0.2,0.4,0.6,0.8,1], "format": ".1f", "title": "Low Cloud Fraction"}},
   "color": {"field": "series", "type": "nominal", "scale": {"domain": ["HALF RES","CTL","DOUBLE RES","QUADRUPLE RES"], "range": ["#FFD21E","#262626","#1DB0EE","#F03A3A"]}, "legend": {"title": null}}
  }},
 {"data": {"name": "dates"}, "transform": [{"filter": "datum.panel === 4"}],
  "mark": {"type": "text", "align": "right", "baseline": "middle", "font": "Liberation Sans", "fontSize": 16, "color": "#111"},
  "encoding": {
   "x": {"datum": 17.55, "type": "quantitative", "axis": {"orient": "top", "labels": false, "title": null, "values": [6,8,10,12,14,16,18]}},
   "y": {"datum": 0.89, "type": "quantitative", "axis": {"orient": "right", "labels": false, "title": null, "values": [0,0.2,0.4,0.6,0.8,1]}},
   "text": {"field": "label"}
  }}
 ]}
],
"config": {
 "view": {"stroke": "#222", "strokeWidth": 1},
 "axis": {"grid": false, "domain": false, "tickColor": "#222", "tickSize": -4, "tickWidth": 1, "labelFont": "DejaVu Sans", "labelFontWeight": "bold", "labelFontSize": 10, "labelColor": "#111", "labelPadding": 6, "labelFlush": false, "labelBound": false, "labelOverlap": false, "titleFont": "Liberation Sans", "titleFontSize": 17, "titleFontWeight": "normal", "titleColor": "#222"},
 "axisX": {"titlePadding": 1, "labelPadding": 5},
 "axisY": {"titlePadding": 3},
 "legend": {"orient": "top-left", "offset": 4, "symbolType": "stroke", "symbolSize": 100, "symbolStrokeWidth": 2, "labelFont": "DejaVu Sans", "labelFontWeight": "bold", "labelFontSize": 7.5, "labelColor": "#222", "labelOffset": 6, "strokeColor": "#777", "fillColor": "white", "padding": 4, "rowPadding": 0, "cornerRadius": 0}
}
}
